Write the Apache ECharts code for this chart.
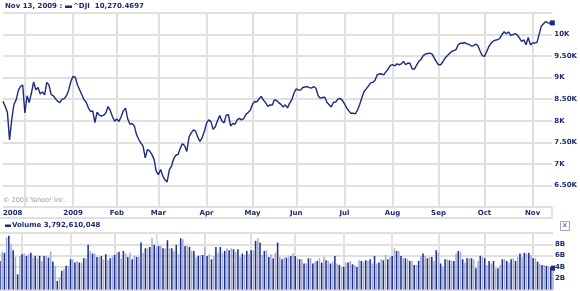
<!DOCTYPE html>
<html><head><meta charset="utf-8">
<script src="https://cdn.jsdelivr.net/npm/echarts@6/dist/echarts.min.js"></script>
<style>html,body{margin:0;padding:0;background:#fff}#c{width:580px;height:291px}</style>
</head><body><div id="c"></div>
<script>
// ---- data ----
const startDate = '2008-11-14';
const endDate = '2009-11-13';
const holidays = ['2008-11-27','2008-12-25','2009-01-01','2009-01-19','2009-02-16','2009-04-10','2009-05-25','2009-07-03','2009-09-07'];

const closes = [
8450,8330,8200,7557,8030,8380,8486,8700,8800,8830,
8180,8580,8420,8650,8900,8720,8770,8620,8670,8600,
8890,8830,8610,8580,8510,8450,8420,8500,8515,8580,
8710,8912,9030,9010,8835,8720,8610,8490,8430,8300,
8215,8230,7960,8200,8130,8110,8130,8180,8330,8240,
8100,7990,8040,7983,8100,8230,8293,8040,7920,7940,
7880,7680,7572,7480,7410,7140,7330,7300,7220,7110,
6830,6750,6870,6720,6630,6580,6860,6950,7120,7200,
7220,7360,7470,7420,7290,7620,7720,7789,7760,7620,
7520,7610,7750,7944,8021,7980,7800,7860,8000,8120,
8000,7950,8130,8140,7880,7940,7920,8020,8055,8020,
8050,8150,8190,8250,8380,8447,8440,8510,8564,8480,
8420,8331,8370,8360,8486,8470,8420,8380,8320,8370,
8300,8410,8490,8650,8740,8710,8710,8772,8785,8790,
8770,8760,8795,8756,8580,8524,8540,8550,8430,8370,
8320,8430,8432,8500,8520,8480,8400,8300,8230,8176,
8176,8160,8250,8380,8540,8680,8740,8810,8880,8890,
8940,9066,9090,9085,9066,9140,9200,9283,9305,9270,
9320,9300,9320,9376,9300,9340,9330,9200,9200,9290,
9380,9420,9510,9545,9560,9570,9550,9460,9370,9299,
9300,9370,9454,9510,9560,9609,9625,9650,9764,9800,
9798,9815,9785,9770,9735,9740,9780,9740,9620,9510,
9493,9600,9720,9800,9845,9870,9880,9910,10000,10065,
10020,10060,9980,10000,10020,9990,9919,9840,9880,9764,
9930,9760,9803,9803,9820,10010,10200,10250,10300,10270,
10260,10270.4697
];

const volumesB = [
5.06,6.7,6.5,9.2,9.5,8.0,6.95,5.77,2.7,5.95,
6.24,6.36,5.95,6.24,6.5,5.65,5.95,5.53,5.95,5.06,
5.95,5.95,5.65,6.7,4.94,4.2,1.5,2.1,3.3,3.6,
4.2,4.2,5.35,5.35,4.77,5.06,4.77,4.77,5.53,5.53,
7.9,6.83,6.36,6.36,5.77,5.77,5.95,5.35,6.24,5.18,
5.53,5.77,6.12,6.5,6.7,5.53,6.83,6.36,5.77,6.5,
5.35,5.95,5.77,5.77,8.3,6.5,7.3,7.3,7.54,9.07,
7.9,7.54,7.72,7.72,7.3,7.3,8.72,7.3,7.3,6.83,
7.9,6.24,9.07,8.9,7.72,7.72,7.54,6.83,6.83,5.65,
5.95,6.12,6.12,7.54,5.95,6.24,5.35,5.95,7.54,6.5,
7.54,6.5,6.83,7.3,6.95,7.3,7.13,6.7,7.13,5.77,
6.36,6.12,6.83,6.24,6.95,6.95,8.6,9.07,8.3,6.12,
6.83,6.95,5.77,6.24,5.53,6.5,8.3,
5.77,5.35,5.65,5.65,5.77,5.95,6.36,5.95,5.53,5.35,
5.35,4.6,4.6,5.53,5.53,4.6,4.94,5.06,5.53,4.77,
5.77,5.18,5.06,4.6,4.94,5.95,4.6,4.35,4.0,4.0,
4.77,4.77,5.06,4.47,4.35,4.0,5.18,5.06,4.94,5.18,
5.06,5.35,4.6,5.95,4.6,4.77,5.35,5.18,6.12,5.35,
5.77,5.95,7.3,6.83,6.83,5.95,5.53,5.53,5.35,5.06,
5.06,4.35,4.35,5.06,5.95,6.36,5.95,5.53,5.77,5.77,
5.06,6.95,6.5,4.6,4.0,5.35,5.35,5.18,5.06,5.06,
6.36,6.83,6.7,5.35,4.77,5.53,5.53,5.53,5.35,3.76,
5.06,5.95,5.77,5.53,4.35,5.06,4.6,5.06,3.76,3.76,
4.35,5.35,5.35,5.06,4.77,5.35,5.53,5.06,5.77,6.36,
5.77,6.5,6.36,6.5,6.12,5.53,5.53,4.94,4.6,4.35,
4.35,4.18,4.18,4.0,3.79
];

const monthTickLabels = ['2008','','2009','Feb','Mar','Apr','May','Jun','Jul','Aug','Sep','Oct','Nov'];
const priceTickLabels = {10000:'10K',9500:'9.50K',9000:'9K',8500:'8.50K',8000:'8K',7500:'7.50K',7000:'7K',6500:'6.50K'};
const volumeTickLabels = {2:'2B',4:'4B',6:'6B',8:'8B'};
const headerDate = 'Nov 13, 2009 :';
const headerSymbol = '^DJI';
const headerValue = '10,270.4697';
const volumeName = 'Volume';
const volumeValue = '3,792,610,048';
const copyrightText = '\u00A9 2008 Yahoo! Inc.';

// ---- trading-day categories ----
const categories = [];
for (let t = Date.parse(startDate + 'T00:00:00Z'); t <= Date.parse(endDate + 'T00:00:00Z'); t += 86400000) {
  const d = new Date(t), wd = d.getUTCDay(), s = d.toISOString().slice(0, 10);
  if (wd === 0 || wd === 6 || holidays.includes(s)) continue;
  categories.push(s);
}
const labelAt = new Map();
let m = 0;
categories.forEach((c, i) => {
  if (i === 0 || c.slice(5, 7) !== categories[i - 1].slice(5, 7)) { labelAt.set(i, monthTickLabels[m]); m++; }
});

// ---- style ----
const NAVY = '#1c2b72';
const LINE = '#1a2a80';
const LIGHT = '#a3acd6';
const GRID = '#e0e0e0';
const FONT = 'DejaVu Sans';
const lblStyle = { color: NAVY, fontFamily: FONT, fontWeight: 'bold', fontSize: 7 };

const chart = echarts.init(document.getElementById('c'), null, { renderer: 'canvas' });
const last = categories.length - 1;

const xCommon = (gi, showLabel) => ({
  type: 'category', gridIndex: gi, data: categories, boundaryGap: false,
  axisLine: { show: false }, axisTick: { show: false },
  axisLabel: showLabel ? Object.assign({
    interval: (i) => labelAt.has(i) && labelAt.get(i) !== '',
    formatter: (v, i) => labelAt.get(i) || '',
    margin: 3, alignMinLabel: 'left'
  }, lblStyle) : { show: false },
  splitLine: { show: true, interval: (i) => labelAt.has(i) && i > 0, lineStyle: { color: GRID, width: 2 } }
});

chart.setOption({
  animation: false,
  backgroundColor: '#fff',
  grid: [
    { left: 0, top: 13, width: 553, height: 194 },
    { left: 0, top: 233, width: 553, height: 56.5 }
  ],
  xAxis: [xCommon(0, true), xCommon(1, false)],
  yAxis: [
    { type: 'value', gridIndex: 0, position: 'right', min: 6000, max: 10500, interval: 500,
      axisLine: { show: false }, axisTick: { show: false },
      axisLabel: Object.assign({ margin: 2, formatter: (v) => priceTickLabels[v] || '' }, lblStyle),
      splitLine: { lineStyle: { color: GRID, width: 2 } } },
    { type: 'value', gridIndex: 1, position: 'right', min: 0, max: 10, interval: 2,
      axisLine: { show: false }, axisTick: { show: false },
      axisLabel: Object.assign({ margin: 2, formatter: (v) => volumeTickLabels[v] || '' }, lblStyle),
      splitLine: { lineStyle: { color: GRID, width: 2 } } }
  ],
  series: [
    { type: 'line', xAxisIndex: 0, yAxisIndex: 0, data: closes, showSymbol: false, silent: true,
      lineStyle: { color: LINE, width: 1.4 },
      markPoint: { symbol: 'rect', symbolSize: 5, label: { show: false }, itemStyle: { color: LINE },
        data: [{ coord: [categories[last], closes[last]] }] } },
    { type: 'bar', xAxisIndex: 1, yAxisIndex: 1, data: volumesB, barWidth: '70%', silent: true,
      itemStyle: { color: (p) => (p.dataIndex % 2 ? LIGHT : '#1f2f8c') },
      markPoint: { symbol: 'rect', symbolSize: [4, 5], label: { show: false }, itemStyle: { color: LINE },
        data: [{ coord: [categories[last], volumesB[last]] }] } }
  ],
  graphic: [
    { type: 'text', left: 5, top: 3, style: { text: headerDate, fill: NAVY, font: 'bold 7px "DejaVu Sans"' } },
    { type: 'rect', shape: { x: 65, y: 5.5, width: 7, height: 2.5 }, style: { fill: NAVY } },
    { type: 'text', left: 73, top: 3, style: { text: headerSymbol + '  ' + headerValue, fill: NAVY, font: 'bold 7px "DejaVu Sans"' } },
    { type: 'text', left: 3, top: 197, style: { text: copyrightText, fill: '#9a9a9a', font: '6.5px "DejaVu Sans"' } },
    { type: 'line', shape: { x1: 0, y1: 218, x2: 553, y2: 218 }, style: { stroke: GRID, lineWidth: 2 } },
    { type: 'line', shape: { x1: 552, y1: 207, x2: 552, y2: 218 }, style: { stroke: GRID, lineWidth: 2 } },
    { type: 'rect', shape: { x: 5, y: 224.5, width: 6, height: 2.5 }, style: { fill: NAVY } },
    { type: 'text', left: 12, top: 222, style: { text: volumeName + ' ' + volumeValue, fill: NAVY, font: 'bold 7px "DejaVu Sans"' } },
    { type: 'rect', shape: { x: 560.5, y: 221.5, width: 9, height: 9 }, style: { fill: '#fff', stroke: '#9aa3c8', lineWidth: 1 } },
    { type: 'text', left: 562.5, top: 221.5, style: { text: 'x', fill: '#6f7aa8', font: 'bold 7px "DejaVu Sans"' } }
  ]
});
</script></body></html>
